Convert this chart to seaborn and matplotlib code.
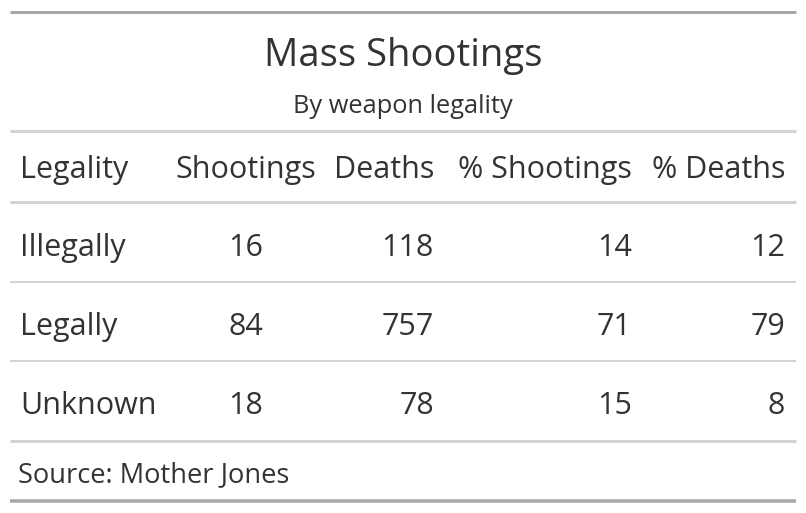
import matplotlib
matplotlib.use("Agg")
import matplotlib.pyplot as plt
import seaborn as sns
import pandas as pd

# ---- data ----
title = "Mass Shootings"
subtitle = "By weapon legality"
source = "Source: Mother Jones"
columns = ["Legality", "Shootings", "Deaths", "% Shootings", "% Deaths"]
legality = ["Illegally", "Legally", "Unknown"]
shootings = [16, 84, 18]
deaths = [118, 757, 78]
pct_shootings = [14, 71, 15]
pct_deaths = [12, 79, 8]

df = pd.DataFrame({
    columns[0]: legality,
    columns[1]: shootings,
    columns[2]: deaths,
    columns[3]: pct_shootings,
    columns[4]: pct_deaths,
})

sns.set_theme(style="white")
plt.rcParams["font.family"] = ["Open Sans", "DejaVu Sans"]

W, H = 806, 513
fig = plt.figure(figsize=(W / 100, H / 100), dpi=100)
ax = fig.add_axes([0, 0, 1, 1])
ax.set_xlim(0, W)
ax.set_ylim(H, 0)
ax.axis("off")

txt = "#333333"
dark_rule = "#a8a8a8"
light_rule = "#d3d3d3"
px = 0.72  # points per pixel at dpi 100

def rule(y, color, w):
    ax.plot([10, 796], [y, y], color=color, lw=w * px, solid_capstyle="butt")

body_fs = 22.0
rule(11.5, dark_rule, 3)
ax.text(403, 66, title, ha="center", va="baseline", fontsize=27.5, color=txt)
ax.text(403, 113, subtitle, ha="center", va="baseline", fontsize=18.3, color=txt)
rule(130.5, light_rule, 3)

# column anchors (x, alignment)
col_x = [20, 246, 434, 632, 785]
col_ha = ["left", "center", "right", "right", "right"]
head_x = [20, 316, 434, 632, 785]
head_ha = ["left", "right", "right", "right", "right"]

for c, x, ha in zip(columns, head_x, head_ha):
    ax.text(x, 178, c, ha=ha, va="baseline", fontsize=body_fs, color=txt)
rule(201.5, light_rule, 3)

row_base = [256, 335, 414]
row_rules = [282, 361]
for i, (_, row) in enumerate(df.iterrows()):
    for c, x, ha in zip(columns, col_x, col_ha):
        ax.text(x, row_base[i], str(row[c]), ha=ha, va="baseline",
                fontsize=body_fs, color=txt)
for y in row_rules:
    rule(y, light_rule, 2)
rule(441, light_rule, 3)

ax.text(18, 482, source, ha="left", va="baseline", fontsize=19.6, color=txt)
rule(501, dark_rule, 3.5)

fig.savefig("out.png", dpi=100, facecolor="white")
